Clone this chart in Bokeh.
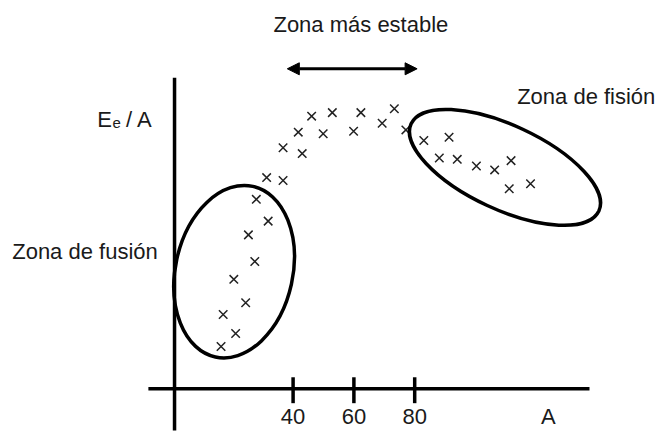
from bokeh.plotting import figure
from bokeh.models import Range1d, Arrow, NormalHead
from bokeh.core.properties import value
from bokeh.embed import file_html
from bokeh.resources import INLINE

# ---- data (mass number A, binding energy per nucleon Ee/A) ----
mass_number = [16.3, 21.1, 17.0, 24.4, 20.5, 27.4, 25.3, 31.8, 27.9, 31.3,
               36.7, 36.7, 43.0, 41.7, 46.1, 49.9, 52.9, 59.9, 62.3, 69.3,
               73.3, 77.1, 83.0, 91.3, 88.1, 94.0, 100.3, 106.3, 111.7, 111.1, 118.1]
binding_per_nucleon = [1.32, 1.73, 2.32, 2.69, 3.42, 3.98, 4.81, 5.24, 5.92, 6.60,
                       6.51, 7.53, 7.35, 8.02, 8.52, 7.97, 8.63, 8.05, 8.63, 8.30,
                       8.75, 8.09, 7.76, 7.86, 7.21, 7.17, 6.96, 6.84, 7.13, 6.25, 6.41]
tick_values = [40, 60, 80]
tick_labels = ["40", "60", "80"]
stable_zone = [38.1, 80.8]

# zones (center A, center E, width in A, height in E, tilt)
fusion_zone = dict(x=20.6, y=3.66, w=38.6, h=5.46, angle=-0.216)
fission_zone = dict(x=109.7, y=6.92, w=68.1, h=2.63, angle=-0.435)

FONT = "Liberation Sans"
INK = "#1a1a1a"
DY = 0.22  # text baseline correction

W, H = 659, 436
p = figure(width=W, height=H, output_backend="svg", toolbar_location=None,
           x_axis_location=None, y_axis_location=None,
           x_range=Range1d(-56.25, 160.53), y_range=Range1d(-1.491, 12.134),
           min_border=0, min_border_left=0, min_border_right=0,
           min_border_top=0, min_border_bottom=0)
p.grid.visible = False
p.outline_line_color = None
p.background_fill_color = "white"
p.border_fill_color = "white"

# axes drawn as lines
p.line([-7.6, 137.5], [0, 0], line_width=3.5, line_color="black")
p.line([1.0, 1.0], [-1.3, 9.72], line_width=3.5, line_color="black")
p.segment(x0=tick_values, y0=[0.36] * 3, x1=tick_values, y1=[-0.45] * 3,
          line_width=3.5, line_color="black")
p.text(x=tick_values, y=[-1.10 + DY] * 3, text=tick_labels, text_align="center",
       text_baseline="alphabetic", text_font=value(FONT), text_font_size="22px",
       text_color=INK)
p.text(x=[124.0], y=[-1.10 + DY], text=["A"], text_align="center",
       text_baseline="alphabetic", text_font=value(FONT), text_font_size="22px",
       text_color=INK)

# y-axis label Ee / A
p.text(x=[-24.4], y=[8.20 + DY], text=["E"], text_align="left", text_baseline="alphabetic",
       text_font=value(FONT), text_font_size="22px", text_color=INK)
p.text(x=[-19.4], y=[8.09 + DY], text=["e"], text_align="left", text_baseline="alphabetic",
       text_font=value(FONT), text_font_size="15px", text_color=INK)
p.text(x=[-15.0], y=[8.20 + DY], text=["/ A"], text_align="left", text_baseline="alphabetic",
       text_font=value(FONT), text_font_size="22px", text_color=INK)

# points
p.scatter(mass_number, binding_per_nucleon, marker="x", size=12,
          line_width=1.5, line_color="#222222")

# zones
for z in (fusion_zone, fission_zone):
    p.ellipse(x=[z["x"]], y=[z["y"]], width=[z["w"]], height=[z["h"]],
              angle=[z["angle"]], fill_color=None, line_color="black", line_width=3.5)

# most stable zone arrow
p.add_layout(Arrow(start=NormalHead(size=12, fill_color="black", line_color="black"),
                   end=NormalHead(size=12, fill_color="black", line_color="black"),
                   x_start=stable_zone[0], y_start=10.0,
                   x_end=stable_zone[1], y_end=10.0,
                   line_width=3, line_color="black"))

# zone labels
p.text(x=[62.3], y=[11.17 + DY], text=["Zona más estable"], text_align="center",
       text_baseline="alphabetic", text_font=value(FONT), text_font_size="22px",
       text_color=INK)
p.text(x=[113.7], y=[8.91 + DY], text=["Zona de fisión"], text_align="left",
       text_baseline="alphabetic", text_font=value(FONT), text_font_size="22px",
       text_color=INK)
p.text(x=[-52.4], y=[4.06 + DY], text=["Zona de fusión"], text_align="left",
       text_baseline="alphabetic", text_font=value(FONT), text_font_size="22px",
       text_color=INK)

open("out.html", "w").write(file_html(p, INLINE))
